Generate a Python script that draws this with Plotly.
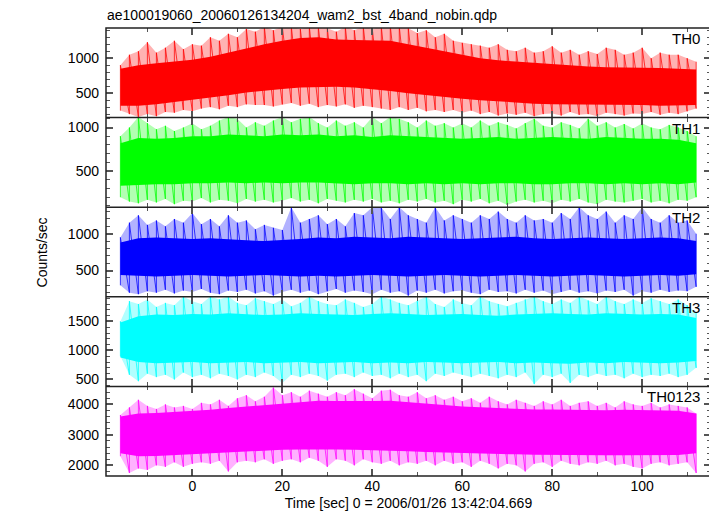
import plotly.graph_objects as go
from plotly.subplots import make_subplots

# ---------------- data ----------------
# spike extremes on a 2-s grid, dense core on a 4-s grid
t_spk = list(range(-16, 113, 2))
t_core = list(range(-16, 113, 4))

labels = ["TH0", "TH1", "TH2", "TH3", "TH0123"]
colors = ["#ff0000", "#00ff00", "#0000ff", "#00ffff", "#ff00ff"]
y_ranges = [[150, 1433], [85, 1114], [144, 1360], [380, 1925], [1650, 4590]]
y_dticks = [500, 500, 500, 500, 1000]
y_minor = [100, 100, 100, 100, 200]
x_range = [-19.2, 115.3]

th0_hi = [900, 1050, 1100, 1230, 1080, 1150, 1250, 1130, 1200, 1180, 1300, 1250, 1350, 1300, 1420, 1380,
          1450, 1400, 1450, 1450, 1420, 1450, 1450, 1430, 1380, 1450, 1400, 1450, 1420, 1450, 1460, 1450,
          1430, 1360, 1400, 1300, 1350, 1250, 1220, 1200, 1180, 1150, 1200, 1120, 1100, 1150, 1080, 1100,
          1170, 1080, 1120, 1050, 1100, 1060, 1150, 1120, 1050, 1080, 1150, 1000, 1080, 1050, 1050, 1000, 950]
th0_lo = [250, 200, 160, 200, 170, 230, 220, 260, 240, 280, 300, 270, 320, 300, 340, 330,
          330, 310, 340, 360, 320, 350, 300, 330, 310, 340, 290, 320, 300, 280, 260, 300,
          260, 290, 240, 260, 230, 260, 220, 250, 200, 230, 180, 210, 190, 220, 170, 200,
          210, 180, 230, 190, 200, 170, 220, 200, 180, 210, 200, 230, 190, 220, 200, 240, 280]
th0_core_hi = [850, 900, 930, 950, 980, 1020, 1080, 1150, 1200, 1250, 1290, 1300, 1270, 1260, 1260, 1250,
               1200, 1150, 1100, 1050, 1000, 970, 950, 930, 910, 890, 880, 870, 870, 860, 860, 850, 840]
th0_core_lo = [320, 320, 340, 370, 400, 430, 470, 510, 540, 560, 580, 590, 590, 580, 560, 530,
               500, 470, 450, 420, 400, 380, 360, 350, 340, 340, 330, 330, 330, 330, 320, 320, 330]

th1_hi = [900, 1000, 1120, 1050, 980, 1020, 960, 1000, 1050, 980, 1020, 1080, 1120, 1100, 1000, 1060,
          1020, 1080, 1120, 1060, 1100, 1120, 1050, 1000, 1080, 1020, 1060, 1000, 1120, 1050, 1120, 1100,
          1060, 1000, 1080, 1020, 1050, 1000, 1050, 1000, 1080, 1020, 1060, 1030, 990, 1050, 1100, 1020,
          1000, 1060, 1030, 990, 1100, 1020, 1060, 1000, 1040, 990, 1050, 1000, 980, 1030, 1000, 960, 900]
th1_lo = [200, 150, 130, 170, 140, 180, 120, 160, 150, 190, 140, 170, 160, 130, 180, 150,
          170, 140, 160, 190, 150, 170, 130, 180, 160, 140, 170, 150, 180, 140, 160, 130,
          170, 150, 180, 140, 160, 120, 170, 150, 180, 130, 160, 110, 150, 170, 140, 160,
          130, 170, 150, 180, 140, 120, 170, 150, 140, 160, 180, 140, 160, 130, 170, 160, 200]
th1_core_hi = [820, 880, 870, 880, 900, 900, 920, 910, 900, 920, 910, 920, 900, 910, 890, 910,
               900, 890, 880, 870, 880, 890, 870, 880, 890, 880, 870, 890, 880, 870, 870, 860, 820]
th1_core_lo = [330, 340, 350, 350, 360, 360, 370, 360, 370, 360, 370, 370, 360, 350, 360, 360,
               350, 360, 350, 360, 350, 360, 360, 350, 350, 360, 360, 350, 360, 350, 360, 350, 370]

th2_hi = [950, 1150, 1250, 1120, 1180, 1100, 1200, 1150, 1280, 1130, 1200, 1100, 1250, 1150, 1180, 1060,
          1120, 1080, 1050, 1360, 1150, 1200, 1250, 1130, 1200, 1100, 1280, 1250, 1360, 1360, 1200, 1360,
          1250, 1200, 1150, 1360, 1180, 1250, 1200, 1150, 1250, 1200, 1300, 1200, 1150, 1250, 1180, 1200,
          1150, 1280, 1200, 1360, 1250, 1200, 1300, 1150, 1250, 1200, 1360, 1200, 1150, 1250, 1150, 1180, 1000]
th2_lo = [300, 200, 180, 220, 200, 240, 190, 230, 210, 250, 200, 180, 230, 210, 240, 190,
          220, 160, 210, 240, 200, 230, 180, 220, 250, 200, 230, 210, 180, 240, 200, 220,
          160, 230, 200, 240, 190, 220, 230, 200, 180, 240, 210, 220, 190, 240, 200, 230,
          180, 210, 240, 200, 220, 190, 230, 210, 240, 160, 220, 200, 240, 210, 230, 220, 280]
th2_core_hi = [880, 940, 950, 940, 930, 940, 920, 910, 900, 910, 930, 950, 940, 960, 950, 940,
               960, 950, 940, 930, 940, 950, 960, 940, 930, 940, 950, 940, 930, 940, 950, 940, 900]
th2_core_lo = [440, 430, 420, 430, 440, 430, 420, 430, 440, 430, 420, 430, 420, 430, 440, 430,
               420, 430, 440, 430, 420, 430, 440, 430, 420, 430, 440, 430, 420, 430, 440, 430, 450]

th3_hi = [1500, 1850, 1800, 1880, 1750, 1820, 1780, 1930, 1850, 1800, 1930, 1880, 1930, 1820, 1780, 1900,
          1850, 1800, 1880, 1760, 1820, 1930, 1850, 1800, 1780, 1880, 1820, 1750, 1800, 1930, 1880, 1820,
          1780, 1850, 1930, 1800, 1750, 1880, 1820, 1780, 1930, 1850, 1800, 1760, 1820, 1880, 1930, 1850,
          1800, 1880, 1820, 1930, 1860, 1800, 1930, 1850, 1800, 1880, 1820, 1900, 1850, 1800, 1880, 1780, 1650]
th3_lo = [900, 580, 470, 600, 540, 580, 500, 620, 540, 580, 520, 600, 560, 500, 580, 540,
          620, 560, 440, 580, 540, 600, 560, 480, 580, 600, 540, 620, 560, 580, 520, 600,
          540, 580, 470, 600, 560, 620, 580, 540, 600, 560, 520, 580, 540, 620, 420, 580,
          540, 600, 440, 580, 540, 600, 560, 580, 520, 600, 540, 580, 560, 600, 540, 580, 700]
th3_core_hi = [1480, 1590, 1620, 1610, 1630, 1620, 1640, 1630, 1610, 1620, 1640, 1630, 1620, 1610, 1630, 1640,
               1630, 1610, 1620, 1630, 1610, 1600, 1620, 1630, 1640, 1630, 1620, 1640, 1630, 1620, 1630, 1620, 1560]
th3_core_lo = [880, 800, 780, 790, 800, 780, 790, 800, 780, 790, 800, 780, 790, 800, 780, 790,
               780, 800, 790, 780, 790, 800, 780, 790, 780, 770, 790, 780, 800, 790, 780, 790, 820]

th0123_hi = [3650, 3900, 4150, 3950, 3850, 4000, 3900, 3950, 3850, 4050, 4000, 4150, 3950, 4200, 4300, 4100,
             4250, 4550, 4300, 4400, 4250, 4450, 4350, 4250, 4400, 4300, 4500, 4350, 4200, 4450, 4480, 4300,
             4250, 4400, 4200, 4300, 4150, 4250, 4100, 4200, 4050, 4250, 4100, 4000, 4150, 4050, 3950, 4100,
             4000, 4150, 3950, 4050, 4100, 3950, 4050, 3900, 4100, 4000, 3950, 4050, 3900, 4000, 3950, 3900, 3700]
th0123_lo = [2300, 1750, 1900, 1850, 2000, 1950, 2100, 1950, 2050, 2100, 2050, 2150, 1800, 2100, 2150, 2100,
             2200, 2050, 2150, 2200, 2100, 2250, 2150, 1950, 2200, 2150, 2000, 2200, 2100, 2050, 2150, 2000,
             2100, 2050, 2150, 2000, 2150, 2050, 2100, 1950, 2150, 2050, 1900, 2050, 2000, 1800, 2050, 2100,
             1950, 2150, 2050, 2000, 2100, 2050, 2150, 2000, 2050, 1950, 1900, 2050, 2100, 2000, 2050, 2100, 1750]
th0123_core_hi = [3600, 3700, 3720, 3750, 3780, 3820, 3880, 3930, 3990, 4040, 4080, 4120, 4110, 4100, 4110, 4120,
                  4080, 4020, 3980, 3930, 3900, 3870, 3850, 3830, 3830, 3820, 3810, 3810, 3820, 3810, 3800, 3790, 3700]
th0123_core_lo = [2400, 2300, 2310, 2340, 2380, 2400, 2440, 2470, 2490, 2510, 2520, 2530, 2520, 2510, 2500, 2490,
                  2460, 2440, 2420, 2400, 2380, 2370, 2360, 2350, 2340, 2340, 2340, 2330, 2330, 2330, 2330, 2340, 2400]

his = [th0_hi, th1_hi, th2_hi, th3_hi, th0123_hi]
los = [th0_lo, th1_lo, th2_lo, th3_lo, th0123_lo]
core_his = [th0_core_hi, th1_core_hi, th2_core_hi, th3_core_hi, th0123_core_hi]
core_los = [th0_core_lo, th1_core_lo, th2_core_lo, th3_core_lo, th0123_core_lo]

title_text = "ae100019060_20060126134204_wam2_bst_4band_nobin.qdp"
x_title = "Time [sec] 0 = 2006/01/26 13:42:04.669"
y_title = "Counts/sec"

FIG_W, FIG_H = 709, 508   # the page body adds an 8 px margin on the top and left


def rgba(hexc, a):
    h = hexc.lstrip("#")
    return "rgba(%d,%d,%d,%.2f)" % (int(h[0:2], 16), int(h[2:4], 16), int(h[4:6], 16), a)


fig = make_subplots(rows=5, cols=1, shared_xaxes=True, vertical_spacing=0)

for i in range(5):
    r = i + 1
    c = colors[i]
    # light fringe: spike extent band
    fig.add_trace(go.Scatter(x=t_spk, y=los[i], mode="lines", line=dict(width=0, color=c),
                             showlegend=False, hoverinfo="skip"), row=r, col=1)
    fig.add_trace(go.Scatter(x=t_spk, y=his[i], mode="lines", line=dict(width=0, color=c),
                             fill="tonexty", fillcolor=rgba(c, 0.3),
                             showlegend=False, hoverinfo="skip"), row=r, col=1)
    # the light curve itself, swinging between successive extremes
    sx, sy = [], []
    for t, lo, hi in zip(t_spk, los[i], his[i]):
        sx += [t, t]
        sy += [lo, hi]
    fig.add_trace(go.Scatter(x=sx, y=sy, mode="lines", line=dict(width=1, color=rgba(c, 0.75)),
                             showlegend=False, hoverinfo="skip"), row=r, col=1)
    # dense core
    fig.add_trace(go.Scatter(x=t_core, y=core_los[i], mode="lines", line=dict(width=0, color=c),
                             showlegend=False, hoverinfo="skip"), row=r, col=1)
    fig.add_trace(go.Scatter(x=t_core, y=core_his[i], mode="lines", line=dict(width=0, color=c),
                             fill="tonexty", fillcolor=c,
                             showlegend=False, hoverinfo="skip"), row=r, col=1)

    fig.update_yaxes(row=r, col=1, range=y_ranges[i], dtick=y_dticks[i], tick0=0,
                     ticks="inside", ticklen=7, tickwidth=1.5, tickcolor="#555",
                     minor=dict(dtick=y_minor[i], ticks="inside", ticklen=4, tickwidth=1.2,
                                tickcolor="#555"),
                     showline=False, mirror="allticks", automargin=False,
                     showgrid=False, zeroline=False, ticklabelstandoff=6,
                     tickfont=dict(size=14, color="#000"))
    fig.update_xaxes(row=r, col=1, range=x_range, dtick=20, tick0=0,
                     ticks="inside", ticklen=7, tickwidth=1.5, tickcolor="#555",
                     minor=dict(dtick=10, ticks="inside", ticklen=4, tickwidth=1.2, tickcolor="#555"),
                     showline=False, mirror="allticks", automargin=False,
                     showgrid=False, zeroline=False, showticklabels=(r == 5),
                     tickfont=dict(size=14, color="#000"))
    fig.add_annotation(text=labels[i], xref="x domain" if r == 1 else "x%d domain" % r,
                       yref="y domain" if r == 1 else "y%d domain" % r,
                       x=0.985, y=1.0, xanchor="right", yanchor="top", showarrow=False,
                       font=dict(size=15, color="#000"))

# panel frame and separators
fig.add_shape(type="rect", xref="paper", yref="paper", x0=0, x1=1, y0=0, y1=1,
              line=dict(color="#222", width=1.5))
for k in range(1, 5):
    fig.add_shape(type="line", xref="paper", yref="paper", x0=0, x1=1, y0=k / 5, y1=k / 5,
                  line=dict(color="#222", width=1.5))

fig.update_xaxes(row=5, col=1, title=dict(text=x_title, font=dict(size=14, color="#000"), standoff=5))

fig.add_annotation(text=y_title, xref="paper", yref="paper", x=-0.105, y=0.5, textangle=-90,
                   xanchor="center", yanchor="middle", showarrow=False,
                   font=dict(size=14, color="#000"))

fig.update_layout(
    width=FIG_W, height=FIG_H,
    margin=dict(l=98, r=6, t=20, b=40),
    paper_bgcolor="white", plot_bgcolor="white",
    font=dict(family="Liberation Sans, Arial, sans-serif", size=14, color="#000"),
    title=dict(text=title_text, x=99 / FIG_W, xanchor="left", y=1 - 7 / FIG_H, yanchor="middle",
               font=dict(size=14, color="#000")),
    showlegend=False,
)

fig.write_html("out.html")
